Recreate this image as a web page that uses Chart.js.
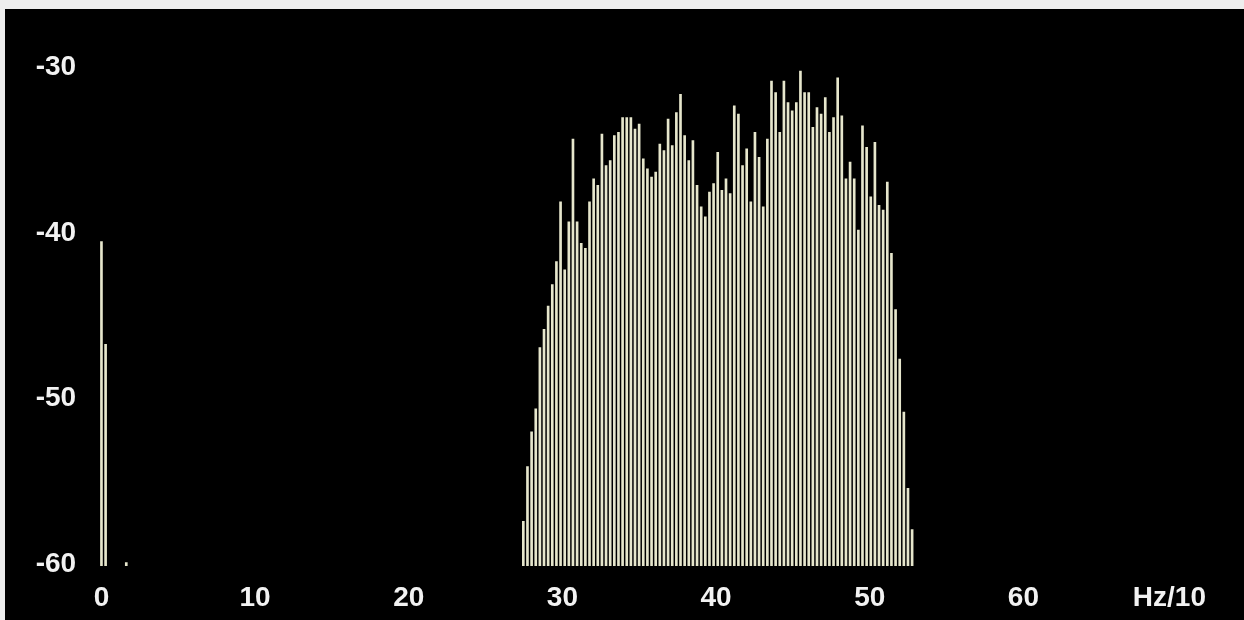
<!DOCTYPE html>
<html>
<head>
<meta charset="utf-8">
<script src="https://cdn.jsdelivr.net/npm/chart.js@4.4.1/dist/chart.umd.min.js"></script>
<style>
  html, body { margin: 0; padding: 0; background: #eeeeee; }
  #panel { position: absolute; left: 5px; top: 9px; width: 1239px; height: 611px; background: #000; }
</style>
</head>
<body>
<div id="panel"><canvas id="spectrum"></canvas></div>
<script>
// FFT bins are 11025/4096 Hz wide, axis is in Hz/10
const binWidth = 0.26917;
const floorDb = -60;

// isolated low-frequency bins
const lowBins = [0, 1, 6];
const lowDb = [-40.4, -46.6, -59.8];

// the band, one value per bin starting at bandFirstBin
const bandFirstBin = 102;
const bandDb = [
  -57.3, -54.0, -51.9, -50.5, -46.8, -45.7, -44.3, -43.0, -41.6, -38.0,
  -42.1, -39.2, -34.2, -39.2, -40.5, -40.8, -38.0, -36.6, -37.0, -33.9,
  -35.8, -35.5, -34.0,
  -33.8, -32.9, -32.9, -32.9, -33.6, -33.3, -35.4, -36.0, -36.5, -36.2,
  -34.5, -34.9, -33.0, -34.6, -32.6, -31.5, -34.0, -35.5, -34.3, -37.0,
  -38.3, -38.9, -37.4,
  -36.9, -35.0, -37.3, -36.6, -37.5, -32.2, -32.7, -35.8, -34.8, -38.0,
  -33.8, -35.3, -38.3, -34.2, -30.7, -31.4, -33.8, -30.7, -32.0, -32.5,
  -32.0, -30.1, -31.4,
  -31.4, -33.5, -32.3, -32.7, -31.7, -33.8, -32.9, -30.5, -32.8, -36.6,
  -35.6, -36.6, -39.7, -33.4, -34.7, -37.7, -34.4, -38.2, -38.5, -36.8,
  -41.1, -44.5, -47.5, -50.7, -55.3, -57.8
];

const yTicks = [-60, -50, -40, -30];
const xTickValues = [0, 10, 20, 30, 40, 50, 60, 69.5];
const xTickLabels = ['0', '10', '20', '30', '40', '50', '60', 'Hz/10'];

const points = lowBins
  .map((b, i) => ({ x: b * binWidth, y: [floorDb, lowDb[i]] }))
  .concat(bandDb.map((v, i) => ({ x: (bandFirstBin + i) * binWidth, y: [floorDb, v] })));

const tickFont = { family: 'Liberation Sans', size: 28, weight: 'bold' };

new Chart(document.getElementById('spectrum'), {
  type: 'bar',
  data: {
    datasets: [{
      data: points,
      backgroundColor: '#e6e6cc',
      borderWidth: 0,
      barThickness: 2,
    }],
  },
  options: {
    responsive: true,
    maintainAspectRatio: false,
    animation: false,
    layout: { padding: { top: 27.4, right: 36.2, left: 0, bottom: 0 } },
    plugins: { legend: { display: false }, tooltip: { enabled: false } },
    scales: {
      x: {
        type: 'linear',
        min: -1,
        max: 72,
        offset: false,
        grid: { display: false, drawTicks: false },
        border: { display: false },
        afterFit: (scale) => { scale.height = 54; },
        afterBuildTicks: (scale) => { scale.ticks = xTickValues.map((v) => ({ value: v })); },
        ticks: {
          color: '#f2f2f2',
          font: tickFont,
          padding: 15,
          maxRotation: 0,
          autoSkip: false,
          callback: (v) => xTickLabels[xTickValues.indexOf(v)],
        },
      },
      y: {
        min: floorDb,
        max: -28,
        grid: { display: false, drawTicks: false },
        border: { display: false },
        afterFit: (scale) => { scale.width = 81.1; },
        afterBuildTicks: (scale) => { scale.ticks = yTicks.map((v) => ({ value: v })); },
        ticks: {
          color: '#f2f2f2',
          font: tickFont,
          padding: 10,
          labelOffset: -2,
        },
      },
    },
  },
});
</script>
</body>
</html>
